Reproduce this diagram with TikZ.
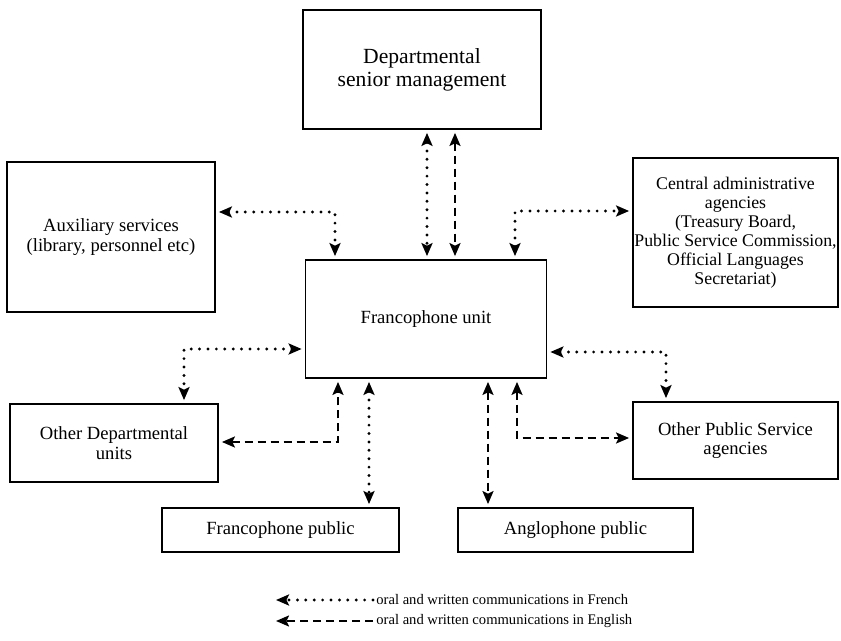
\documentclass[tikz,border=0pt]{standalone}
\usepackage{fontspec}
\setmainfont{Liberation Serif}
\usetikzlibrary{arrows.meta,calc,positioning}

\begin{document}
\begin{tikzpicture}[x=0.5pt, y=-0.5pt, >={Stealth[length=6.5pt,width=5.5pt,inset=1.3pt]},
  unit/.style={draw, line width=0.9pt, align=center, inner sep=1pt,
    font=\fontsize{9.3}{9.8}\selectfont},
  fr/.style={<->, line width=1.6pt, line cap=round, dash pattern=on 0pt off 4.2pt,
    shorten <=1.5pt, shorten >=1.5pt},
  en/.style={<->, line width=1pt, dash pattern=on 4pt off 2.5pt,
    shorten <=1.5pt, shorten >=1.5pt}]
  \useasboundingbox (0,0) rectangle (841,641);
  % boxes
  \node[unit, minimum width=119pt, minimum height=59.5pt,
    font=\fontsize{10.8}{11.5}\selectfont] (dsm) at (422,69.5) {Departmental\\senior management};
  \node[unit, minimum width=104pt, minimum height=75pt] (aux) at (111,237)
    {Auxiliary services\\(library, personnel etc)};
  \node[unit, minimum width=102.5pt, minimum height=74.5pt, inner sep=0pt,
    font=\fontsize{8.9}{9.5}\selectfont] (cen) at (735.5,232.5)
    {Central administrative\\agencies\\(Treasury Board,\\Public Service Commission,\\Official Languages\\Secretariat)};
  \node[unit, minimum width=120.5pt, minimum height=59pt] (fu) at (426,319) {Francophone unit};
  \node[unit, minimum width=104pt, minimum height=39pt] (odu) at (114,443)
    {Other Departmental\\units};
  \node[unit, minimum width=102.5pt, minimum height=38.5pt] (opsa) at (735.5,440.5)
    {Other Public Service\\agencies};
  \node[unit, minimum width=118.5pt, minimum height=22pt] (fp) at (280.5,530) {Francophone public};
  \node[unit, minimum width=117.5pt, minimum height=22pt] (ap) at (575.5,530) {Anglophone public};
  % links
  \coordinate (aux-fu) at (335,212);
  \coordinate (dsm-fu-fr) at (427,190);
  \coordinate (dsm-fu-en) at (455,190);
  \coordinate (fu-cen) at (515,211);
  \coordinate (fu-odu) at (184,349);
  \coordinate (odu-fu) at (338,442);
  \coordinate (fu-fp) at (369,440);
  \coordinate (fu-ap) at (488,440);
  \coordinate (fu-opsa-en) at (517,438);
  \coordinate (fu-opsa-fr) at (666,352);
  \draw[fr] (aux.east |- aux-fu) -| (fu.north -| aux-fu);
  \draw[fr] (dsm.south -| dsm-fu-fr) -- (fu.north -| dsm-fu-fr);
  \draw[en] (dsm.south -| dsm-fu-en) -- (fu.north -| dsm-fu-en);
  \draw[fr] (fu.north -| fu-cen) |- (cen.west |- fu-cen);
  \draw[fr] (fu.west |- fu-odu) -| (odu.north -| fu-odu);
  \draw[en] (odu.east |- odu-fu) -| (fu.south -| odu-fu);
  \draw[fr] (fu.south -| fu-fp) -- (fp.north -| fu-fp);
  \draw[en] (fu.south -| fu-ap) -- (ap.north -| fu-ap);
  \draw[en] (fu.south -| fu-opsa-en) |- (opsa.west |- fu-opsa-en);
  \draw[fr] (fu.east |- fu-opsa-fr) -| (opsa.north -| fu-opsa-fr);
  % key
  \node[anchor=west, inner sep=0pt, font=\fontsize{7.3}{8}\selectfont] (keyfr) at (376,600)
    {oral and written communications in French};
  \node[anchor=west, inner sep=0pt, font=\fontsize{7.3}{8}\selectfont] (keyen) at (376,621)
    {oral and written communications in English};
  \coordinate (keyfr-end) at (273,600);
  \coordinate (keyen-end) at (273,621);
  \draw[fr, ->] (keyfr.west) -- (keyfr-end);
  \draw[en, ->] (keyen.west) -- (keyen-end);
\end{tikzpicture}
\end{document}
